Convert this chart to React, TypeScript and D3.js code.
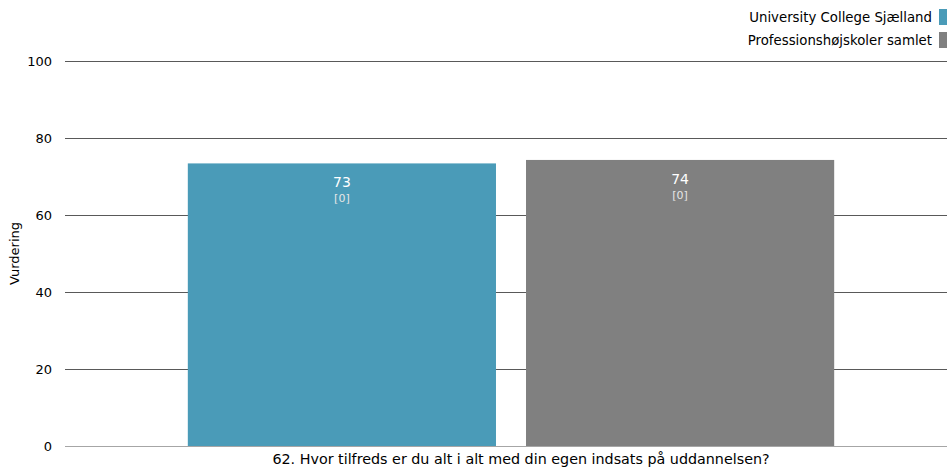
import { useEffect, useRef } from 'react';
import * as d3 from 'd3';

const categories = ['62. Hvor tilfreds er du alt i alt med din egen indsats på uddannelsen?'];
const seriesNames = ['University College Sjælland', 'Professionshøjskoler samlet'];
const seriesColors = ['#4a9bb8', '#808080'];
const values = [[73.4, 74.3]];
const counts = [[0, 0]];
const yTicks = [0, 20, 40, 60, 80, 100];

const FONT = '"DejaVu Sans", sans-serif';

export default function App() {
  const svgRef = useRef<SVGSVGElement>(null);

  useEffect(() => {
    if (!svgRef.current) return;
    d3.select(svgRef.current).selectAll('*').remove();

    const width = 947;
    const height = 468;
    const margin = { top: 61, right: -10, bottom: 22, left: 65 };

    const svg = d3.select(svgRef.current).attr('width', width).attr('height', height);

    const y = d3.scaleLinear().domain([0, 100]).range([height - margin.bottom, margin.top]);
    const x0 = d3
      .scaleBand()
      .domain(categories)
      .range([margin.left, width - margin.right])
      .paddingInner(0)
      .paddingOuter(0.19);
    const x1 = d3
      .scaleBand()
      .domain(seriesNames)
      .range([0, x0.bandwidth()])
      .paddingInner(0.0888);

    // gridlines + tick labels
    const grid = svg.append('g');
    yTicks.forEach((t) => {
      grid
        .append('line')
        .attr('x1', margin.left)
        .attr('x2', width)
        .attr('y1', Math.round(y(t)) + 0.5)
        .attr('y2', Math.round(y(t)) + 0.5)
        .attr('stroke', t === 0 ? '#a6a6a6' : '#595959')
        .attr('stroke-width', 1);
      grid
        .append('text')
        .attr('x', 52)
        .attr('y', y(t))
        .attr('dy', '0.36em')
        .attr('text-anchor', 'end')
        .attr('font-family', FONT)
        .attr('font-size', 13)
        .attr('fill', '#000')
        .text(t);
    });

    // y axis title
    svg
      .append('text')
      .attr('transform', `translate(19, ${(margin.top + height - margin.bottom) / 2}) rotate(-90)`)
      .attr('text-anchor', 'middle')
      .attr('font-family', FONT)
      .attr('font-size', 13)
      .attr('fill', '#000')
      .text('Vurdering');

    // bars
    categories.forEach((cat, ci) => {
      const g = svg.append('g').attr('transform', `translate(${x0(cat)}, 0)`);
      seriesNames.forEach((s, si) => {
        const v = values[ci][si];
        const bx = x1(s)!;
        g.append('rect')
          .attr('x', bx)
          .attr('y', y(v))
          .attr('width', x1.bandwidth())
          .attr('height', y(0) - y(v))
          .attr('fill', seriesColors[si]);
        g.append('text')
          .attr('x', bx + x1.bandwidth() / 2)
          .attr('y', y(v) + 24)
          .attr('text-anchor', 'middle')
          .attr('font-family', FONT)
          .attr('font-size', 14)
          .attr('fill', '#fff')
          .text(Math.round(v));
        g.append('text')
          .attr('x', bx + x1.bandwidth() / 2)
          .attr('y', y(v) + 39)
          .attr('text-anchor', 'middle')
          .attr('font-family', FONT)
          .attr('font-size', 11)
          .attr('fill', '#e6e6e6')
          .text(`[${counts[ci][si]}]`);
      });
      svg
        .append('text')
        .attr('x', x0(cat)! + x0.bandwidth() / 2 + 10)
        .attr('y', height - 4)
        .attr('text-anchor', 'middle')
        .attr('font-family', FONT)
        .attr('font-size', 14.3)
        .attr('fill', '#000')
        .text(cat);
    });

    // legend
    const legend = svg.append('g');
    seriesNames.forEach((s, i) => {
      const ly = 9 + i * 23;
      legend
        .append('rect')
        .attr('x', 939)
        .attr('y', ly)
        .attr('width', 8)
        .attr('height', 16)
        .attr('fill', seriesColors[i]);
      legend
        .append('text')
        .attr('x', 932)
        .attr('y', ly + 8)
        .attr('dy', '0.36em')
        .attr('text-anchor', 'end')
        .attr('font-family', FONT)
        .attr('font-size', 13.3)
        .attr('fill', '#000')
        .text(s);
    });
  }, []);

  return (
    <div style={{ position: 'fixed', left: 0, top: 0, width: 947, height: 468, background: '#fff' }}>
      <svg ref={svgRef} style={{ display: 'block' }}></svg>
    </div>
  );
}
